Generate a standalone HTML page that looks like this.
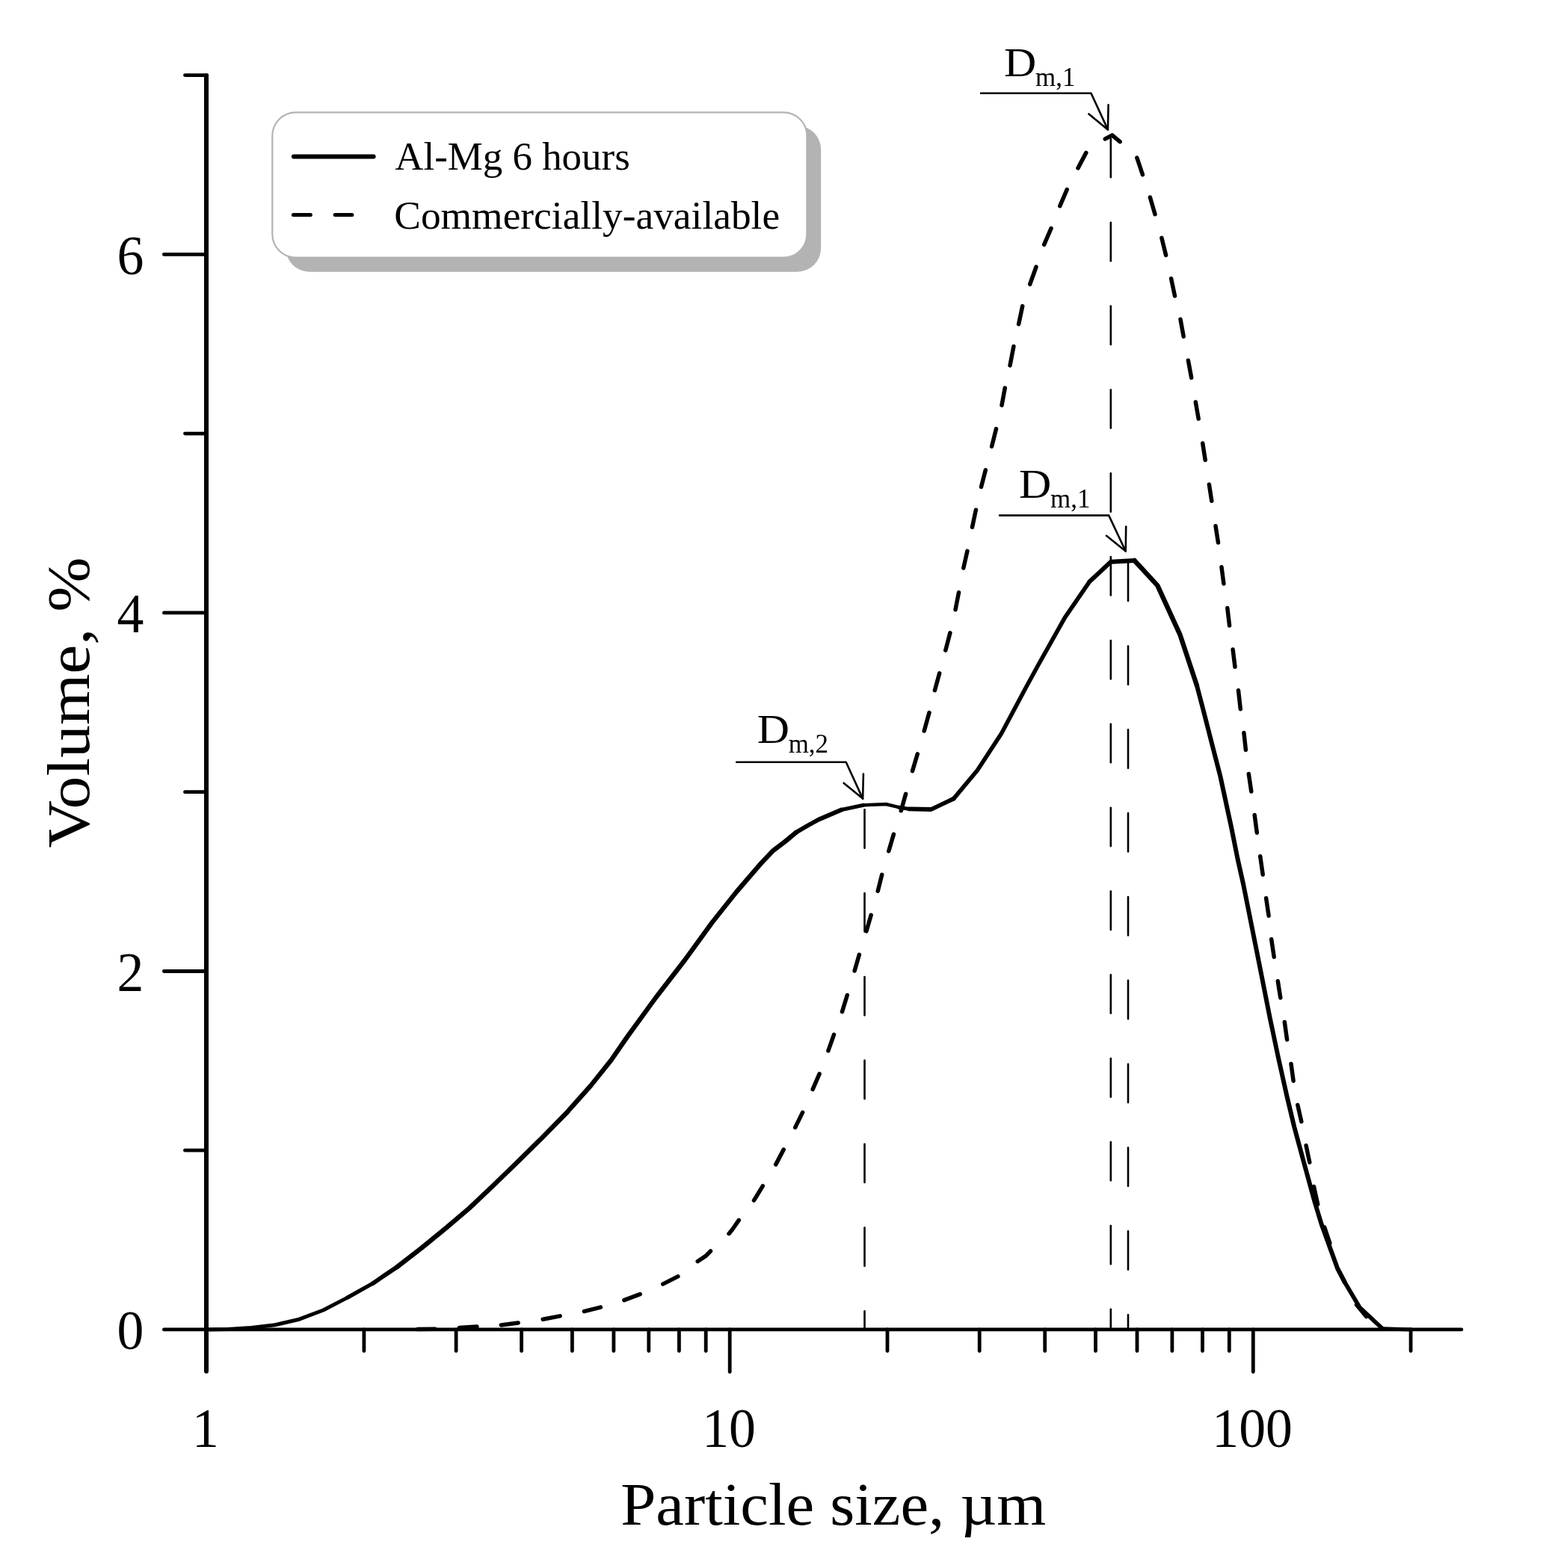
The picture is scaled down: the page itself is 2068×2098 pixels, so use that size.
<!DOCTYPE html>
<html lang="en"><head><meta charset="utf-8">
<title>Particle size distribution: Al-Mg 6 hours vs commercially-available</title>
<style>
html,body{margin:0;padding:0;background:#fff}
body{width:2068px;height:2098px;overflow:hidden}
svg{display:block}
text{font-family:"Liberation Serif", "DejaVu Serif", serif;fill:#000}
.ax{stroke:#000;stroke-width:4.8;stroke-linecap:round;fill:none}
.yax{stroke-width:6}
.solid{stroke:#000;stroke-width:6;stroke-linecap:round;stroke-linejoin:round;fill:none}
.dash{stroke:#000;stroke-width:5.5;stroke-linecap:round;stroke-linejoin:round;fill:none}
.thin{stroke:#000;stroke-width:2.6;stroke-linecap:round;stroke-linejoin:round;fill:none}
.vref{stroke:#000;stroke-width:2.6;stroke-linecap:round;fill:none;stroke-dasharray:51.4 60.45}
</style></head><body>
<svg xmlns="http://www.w3.org/2000/svg" width="2068" height="2098" viewBox="0 0 2068 2098" role="img" aria-label="Volume percent versus particle size">
<rect width="2068" height="2098" fill="#fff"/>
<g id="legend">
<rect x="382.2" y="168.2" width="716" height="195.6" rx="32" ry="32" fill="#b3b3b3"/>
<rect x="364.3" y="150.3" width="715.1" height="194.4" rx="31.5" ry="31.5" fill="#fff" stroke="#b3b3b3" stroke-width="2.2"/>
<path class="solid" d="M392.9 209.6H499.6"/>
<path class="dash" style="stroke-width:5" d="M392.4 287.6H415.4M448.2 287.6H470.9"/>
<text transform="translate(528.3 227.4) scale(0.9890 1)" font-size="53.5" text-anchor="start">Al-Mg 6 hours</text>
<text transform="translate(527.3 305.9) scale(0.9980 1)" font-size="53.5" text-anchor="start">Commercially-available</text>
</g>
<g id="refs" class="vref">
<path d="M1485.8 185.9V1779"/>
<path d="M1509 752.6V1779"/>
<path d="M1156.5 1083.3V1779"/>
</g>
<g id="curves">
<path class="dash" d="M558.7 1778.6 L582 1778.2M614.4 1776.6 L638 1775.1M670.3 1773 L693.1 1769.9M726.2 1765.3 L749.1 1760.9M781.4 1754.6 L803.4 1749.1M834.9 1739.6 L856.2 1731.7M886.7 1718.1 L906.9 1707.9M933.2 1687.7 L944.2 1680.4 L950.5 1674M975 1650.7 L979.7 1645 L988.3 1632.6M1008.5 1606.1 L1020.3 1586.9M1037.7 1558.1 L1048.2 1538.1M1063.7 1508.6 L1073.6 1488.4M1087.1 1457.6 L1096.1 1436.8M1107.9 1405.9 L1115.5 1384.3M1126.5 1353.6 L1133.3 1331.5M1143.1 1299 L1149.3 1277.4M1158.9 1245.9 L1165.2 1224.3M1174.2 1192.3 L1179.7 1170.3M1188.8 1138.8 L1195.4 1116.2M1205.3 1084.8 L1211.6 1062.3M1220.5 1031.6 L1227.3 1008.8M1236.2 978 L1243 953.6M1250.4 923.7 L1256.7 900.8M1264.8 870.1 L1270.9 846.8M1278 815.8 L1282.5 792.8M1288.8 760 L1293.9 737.4M1300.5 705.4 L1305.4 682.2M1312.5 651.5 L1318.3 629M1326.6 597.4 L1332.5 573.8M1340 542.3 L1344.3 519.1M1351 489 L1355.9 463.5M1362.6 433.8 L1367.7 409.6M1377.7 380.3 L1386 357.2M1396.6 327.3 L1406 305.6M1417.8 275.7 L1427.2 253.6M1442 224.9 L1452.8 204.4M1478.3 185.9 L1487.7 180.8 L1498.1 189.7M1520.8 211 L1528.4 233.7M1538.4 264 L1545 286.7M1553.9 318.4 L1559.6 341.5M1566.6 372.7 L1571.5 396M1579 427.2 L1583.2 450.2M1589.4 482.2 L1593.7 505.4M1599.3 538 L1603.2 560.4M1608.7 593.1 L1612.2 615.5M1617.4 648.3 L1620.8 670.3M1626 703.7 L1629.5 726.1M1634 758.8 L1636.9 781M1641.8 813.5 L1644.6 837.1M1649.1 869.1 L1652 892.3M1656.5 923.8 L1659.3 948.7M1663.9 980.5 L1666.4 1003.4M1670.3 1035.4 L1673.8 1059.1M1678.2 1090.6 L1681.3 1114.2M1685.7 1145.7 L1689.2 1170.2M1693.6 1201.7 L1697.1 1225.3M1700.7 1256.8 L1704.2 1280.4M1709.3 1312.8 L1712.8 1335.1M1718.3 1367.4 L1721.6 1391.1M1727 1423.4 L1730.1 1446.2M1735.8 1478.5 L1740.8 1500.6M1747.1 1532.8 L1751.8 1555.2M1757.5 1587.7 L1762.7 1611.4M1771.7 1642.1 L1778.8 1663.4M1789.9 1698.3 L1798.6 1715.2M1814.6 1745.8 L1827.6 1761.6"/>
<path class="solid" style="stroke-width:5" d="M276.1 1779 L305 1778.6 L336.2 1776.5 L368 1772.8 L400.3 1765.2 L432.4 1753 L464.9 1736.1"/>
<path class="solid" style="stroke-width:5.3" d="M464.9 1736.1 L498.5 1717.3"/>
<path class="solid" style="stroke-width:5.8" d="M498.5 1717.3 L531.4 1695"/>
<path class="solid" style="stroke-width:6.3" d="M531.4 1695 L564 1669.7 L596.1 1643.5 L628 1616.4 L660.3 1585.8 L692.5 1554.5 L725 1522.4 L757.6 1489.3 L790.2 1452.6 L817.5 1418.5 L838.8 1387.6 L877.1 1335 L916.5 1284 L952.5 1234.4 L985.1 1193.4 L1017.6 1155.6 L1033.4 1138.8 L1050.2 1126 L1064.8 1113.8"/>
<path class="solid" style="stroke-width:5.8" d="M1064.8 1113.8 L1081.5 1104 L1095.2 1096.5 L1125.6 1083.5"/>
<path class="solid" style="stroke-width:5" d="M1125.6 1083.5 L1155 1077.2"/>
<path class="solid" style="stroke-width:4.4" d="M1155 1077.2 L1185.3 1076 L1202.3 1080.2"/>
<path class="solid" style="stroke-width:5" d="M1202.3 1080.2 L1216 1082.4"/>
<path class="solid" style="stroke-width:5.8" d="M1216 1082.4 L1245.5 1083 L1275.7 1068.6"/>
<path class="solid" style="stroke-width:5.6" d="M1275.7 1068.6 L1307.5 1030.5 L1339.5 981.5 L1372 920.5 L1389.5 888.5 L1408.4 854.8 L1424.4 826.4 L1440.5 802.8 L1457.5 778.2"/>
<path class="solid" style="stroke-width:5.9" d="M1457.5 778.2 L1485.9 751.7 L1517.5 750"/>
<path class="solid" style="stroke-width:6.4" d="M1517.5 750 L1548.3 783.3 L1568.3 827.2 L1578.3 848.8 L1600.9 917"/>
<path class="solid" style="stroke-width:6" d="M1600.9 917 L1609.3 949 L1623 1002.5 L1632.3 1038.5 L1647.2 1107.5 L1655.7 1150 L1663 1182.5 L1673.5 1235 L1684 1287.5 L1692.4 1330 L1698.8 1362.5 L1709.9 1415 L1721.6 1467.5 L1731.3 1508 L1744 1555 L1758.4 1607.5 L1767.5 1637.5 L1776.7 1663 L1789.3 1697.7 L1798.7 1715.5"/>
<path class="solid" style="stroke-width:5.6" d="M1798.7 1715.5 L1818.7 1749.2 L1849.2 1777.8"/>
<path class="solid" style="stroke-width:5" d="M1849.2 1777.8 L1887.5 1779"/>
</g>
<g id="axes" class="ax">
<path d="M219.4 1778.9H1954.9"/>
<path d="M247.5 1539.2H276.7"/>
<path d="M219.4 1299.5H276.7"/>
<path d="M247.5 1059.7H276.7"/>
<path d="M219.4 819.9H276.7"/>
<path d="M247.5 580.1H276.7"/>
<path d="M219.4 340.4H276.7"/>
<path d="M247.5 100.6H276.7"/>
<path d="M486.9 1779V1807.6"/>
<path d="M610.1 1779V1807.6"/>
<path d="M697.6 1779V1807.6"/>
<path d="M765.4 1779V1807.6"/>
<path d="M820.9 1779V1807.6"/>
<path d="M867.8 1779V1807.6"/>
<path d="M908.4 1779V1807.6"/>
<path d="M944.2 1779V1807.6"/>
<path d="M976.2 1779V1835.6"/>
<path d="M1187 1779V1807.6"/>
<path d="M1310.2 1779V1807.6"/>
<path d="M1397.7 1779V1807.6"/>
<path d="M1465.5 1779V1807.6"/>
<path d="M1521 1779V1807.6"/>
<path d="M1567.9 1779V1807.6"/>
<path d="M1608.5 1779V1807.6"/>
<path d="M1644.3 1779V1807.6"/>
<path d="M1676.3 1779V1835.6"/>
<path d="M1887.1 1779V1807.6"/>
<path class="yax" d="M276 101.2V1834.8"/>
</g>
<g id="ticklabels">
<text transform="translate(192.3 1805.4) scale(0.9800 1)" font-size="73.2" text-anchor="end">0</text>
<text transform="translate(192.3 1325.9) scale(0.9800 1)" font-size="73.2" text-anchor="end">2</text>
<text transform="translate(192.3 846.3) scale(0.9800 1)" font-size="73.2" text-anchor="end">4</text>
<text transform="translate(192.3 366.8) scale(0.9800 1)" font-size="73.2" text-anchor="end">6</text>
<text transform="translate(274.9 1936.2) scale(0.9800 1)" font-size="73.2" text-anchor="middle">1</text>
<text transform="translate(975 1936.2) scale(0.9800 1)" font-size="73.2" text-anchor="middle">10</text>
<text transform="translate(1675.1 1936.2) scale(0.9800 1)" font-size="73.2" text-anchor="middle">100</text>
</g>
<g id="titles">
<text transform="translate(1114.7 2039.8) scale(1.0480 1)" font-size="80.9" text-anchor="middle">Particle size, µm</text>
<text transform="translate(119.1 940) rotate(-90) scale(1.0870 1)" font-size="80.9" text-anchor="middle">Volume, %</text>
</g>
<g id="annotations">
<g class="thin"><path d="M1312.1 124.7 H1459.5 L1481.9 173.4"/>
<path d="M1456.4 152.5 L1481.9 173.4 L1482.6 140.4"/></g>
<text transform="translate(1343.1 101.8) scale(1.1080 1)" font-size="54" text-anchor="start">D</text>
<text transform="translate(1385.1 115.4) scale(0.9700 1)" font-size="36" text-anchor="start">m,1</text>
<g class="thin"><path d="M1337.1 689.6 H1483.2 L1505.7 737.5"/>
<path d="M1480 716.8 L1505.7 737.5 L1506.2 704.5"/></g>
<text transform="translate(1363 665.7) scale(1.1080 1)" font-size="54" text-anchor="start">D</text>
<text transform="translate(1405 679.3) scale(0.9700 1)" font-size="36" text-anchor="start">m,1</text>
<g class="thin"><path d="M985.2 1019.8 H1131.7 L1154.1 1068.6"/>
<path d="M1128.6 1047.7 L1154.1 1068.6 L1154.9 1035.6"/></g>
<text transform="translate(1012.7 993.8) scale(1.1080 1)" font-size="54" text-anchor="start">D</text>
<text transform="translate(1054.7 1007.4) scale(0.9700 1)" font-size="36" text-anchor="start">m,2</text>
</g>
</svg>
</body></html>
